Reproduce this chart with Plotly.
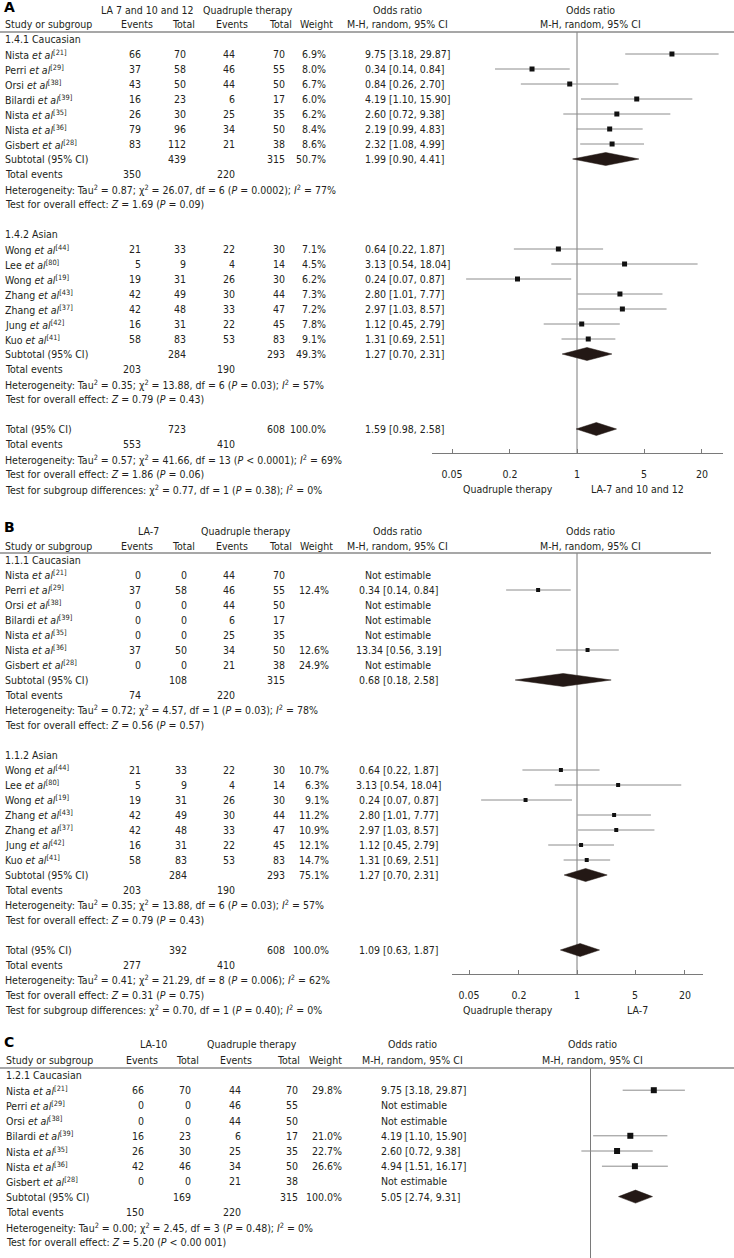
import plotly.graph_objects as go

W, H = 734, 1258
FONT = "DejaVu Sans Condensed, DejaVu Sans, Verdana, sans-serif"
FS = 10.5
TXT = "#231f20"

# ---------------- Panel A data ----------------
A_cau_authors = ["Nista", "Perri", "Orsi", "Bilardi", "Nista", "Nista", "Gisbert"]
A_cau_refs = [21, 29, 38, 39, 35, 36, 28]
A_cau_ev1 = [66, 37, 43, 16, 26, 79, 83]
A_cau_tot1 = [70, 58, 50, 23, 30, 96, 112]
A_cau_ev2 = [44, 46, 44, 6, 25, 34, 21]
A_cau_tot2 = [70, 55, 50, 17, 35, 50, 38]
A_cau_weight = ["6.9%", "8.0%", "6.7%", "6.0%", "6.2%", "8.4%", "8.6%"]
A_cau_or = [9.75, 0.34, 0.84, 4.19, 2.60, 2.19, 2.32]
A_cau_lo = [3.18, 0.14, 0.26, 1.10, 0.72, 0.99, 1.08]
A_cau_hi = [29.87, 0.84, 2.70, 15.90, 9.38, 4.83, 4.99]
A_cau_sub = [1.99, 0.90, 4.41]
A_cau_subtot = [439, 315, "50.7%"]
A_cau_events = [350, 220]
A_cau_het = "Heterogeneity: Tau<sup>2</sup> = 0.87; χ<sup>2</sup> = 26.07, df = 6 (<i>P</i> = 0.0002); <i>I</i><sup>2</sup> = 77%"
A_cau_test = "Test for overall effect: <i>Z</i> = 1.69 (<i>P</i> = 0.09)"

A_asi_authors = ["Wong", "Lee", "Wong", "Zhang", "Zhang", "Jung", "Kuo"]
A_asi_refs = [44, 80, 19, 43, 37, 42, 41]
A_asi_ev1 = [21, 5, 19, 42, 42, 16, 58]
A_asi_tot1 = [33, 9, 31, 49, 48, 31, 83]
A_asi_ev2 = [22, 4, 26, 30, 33, 22, 53]
A_asi_tot2 = [30, 14, 30, 44, 47, 45, 83]
A_asi_weight = ["7.1%", "4.5%", "6.2%", "7.3%", "7.2%", "7.8%", "9.1%"]
A_asi_or = [0.64, 3.13, 0.24, 2.80, 2.97, 1.12, 1.31]
A_asi_lo = [0.22, 0.54, 0.07, 1.01, 1.03, 0.45, 0.69]
A_asi_hi = [1.87, 18.04, 0.87, 7.77, 8.57, 2.79, 2.51]
A_asi_sub = [1.27, 0.70, 2.31]
A_asi_subtot = [284, 293, "49.3%"]
A_asi_events = [203, 190]
A_asi_het = "Heterogeneity: Tau<sup>2</sup> = 0.35; χ<sup>2</sup> = 13.88, df = 6 (<i>P</i> = 0.03); <i>I</i><sup>2</sup> = 57%"
A_asi_test = "Test for overall effect: <i>Z</i> = 0.79 (<i>P</i> = 0.43)"

A_total = [1.59, 0.98, 2.58]
A_totals = [723, 608, "100.0%"]
A_total_events = [553, 410]
A_total_het = "Heterogeneity: Tau<sup>2</sup> = 0.57; χ<sup>2</sup> = 41.66, df = 13 (<i>P</i> < 0.0001); <i>I</i><sup>2</sup> = 69%"
A_total_test = "Test for overall effect: <i>Z</i> = 1.86 (<i>P</i> = 0.06)"
A_subgroup_test = "Test for subgroup differences: χ<sup>2</sup> = 0.77, df = 1 (<i>P</i> = 0.38); <i>I</i><sup>2</sup> = 0%"
A_groups_labels = ["1.4.1 Caucasian", "1.4.2 Asian"]
A_arm_labels = ["LA 7 and 10 and 12", "Quadruple therapy"]
A_favour = ["Quadruple therapy", "LA-7 and 10 and 12"]

# ---------------- Panel B data ----------------
B_cau_authors = ["Nista", "Perri", "Orsi", "Bilardi", "Nista", "Nista", "Gisbert"]
B_cau_refs = [21, 29, 38, 39, 35, 36, 28]
B_cau_ev1 = [0, 37, 0, 0, 0, 37, 0]
B_cau_tot1 = [0, 58, 0, 0, 0, 50, 0]
B_cau_ev2 = [44, 46, 44, 6, 25, 34, 21]
B_cau_tot2 = [70, 55, 50, 17, 35, 50, 38]
B_cau_weight = ["", "12.4%", "", "", "", "12.6%", "24.9%"]
B_cau_or = [None, 0.34, None, None, None, 1.34, None]
B_cau_lo = [None, 0.14, None, None, None, 0.56, None]
B_cau_hi = [None, 0.84, None, None, None, 3.19, None]
B_cau_text = ["Not estimable", "0.34 [0.14, 0.84]", "Not estimable", "Not estimable",
              "Not estimable", "13.34 [0.56, 3.19]", "Not estimable"]
B_cau_sub = [0.68, 0.18, 2.58]
B_cau_subtot = [108, 315, ""]
B_cau_events = [74, 220]
B_cau_het = "Heterogeneity: Tau<sup>2</sup> = 0.72; χ<sup>2</sup> = 4.57, df = 1 (<i>P</i> = 0.03); <i>I</i><sup>2</sup> = 78%"
B_cau_test = "Test for overall effect: <i>Z</i> = 0.56 (<i>P</i> = 0.57)"

B_asi_authors = ["Wong", "Lee", "Wong", "Zhang", "Zhang", "Jung", "Kuo"]
B_asi_refs = [44, 80, 19, 43, 37, 42, 41]
B_asi_ev1 = [21, 5, 19, 42, 42, 16, 58]
B_asi_tot1 = [33, 9, 31, 49, 48, 31, 83]
B_asi_ev2 = [22, 4, 26, 30, 33, 22, 53]
B_asi_tot2 = [30, 14, 30, 44, 47, 45, 83]
B_asi_weight = ["10.7%", "6.3%", "9.1%", "11.2%", "10.9%", "12.1%", "14.7%"]
B_asi_or = [0.64, 3.13, 0.24, 2.80, 2.97, 1.12, 1.31]
B_asi_lo = [0.22, 0.54, 0.07, 1.01, 1.03, 0.45, 0.69]
B_asi_hi = [1.87, 18.04, 0.87, 7.77, 8.57, 2.79, 2.51]
B_asi_sub = [1.27, 0.70, 2.31]
B_asi_subtot = [284, 293, "75.1%"]
B_asi_events = [203, 190]
B_asi_het = "Heterogeneity: Tau<sup>2</sup> = 0.35; χ<sup>2</sup> = 13.88, df = 6 (<i>P</i> = 0.03); <i>I</i><sup>2</sup> = 57%"
B_asi_test = "Test for overall effect: <i>Z</i> = 0.79 (<i>P</i> = 0.43)"

B_total = [1.09, 0.63, 1.87]
B_totals = [392, 608, "100.0%"]
B_total_events = [277, 410]
B_total_het = "Heterogeneity: Tau<sup>2</sup> = 0.41; χ<sup>2</sup> = 21.29, df = 8 (<i>P</i> = 0.006); <i>I</i><sup>2</sup> = 62%"
B_total_test = "Test for overall effect: <i>Z</i> = 0.31 (<i>P</i> = 0.75)"
B_subgroup_test = "Test for subgroup differences: χ<sup>2</sup> = 0.70, df = 1 (<i>P</i> = 0.40); <i>I</i><sup>2</sup> = 0%"
B_groups_labels = ["1.1.1 Caucasian", "1.1.2 Asian"]
B_arm_labels = ["LA-7", "Quadruple therapy"]
B_favour = ["Quadruple therapy", "LA-7"]

# ---------------- Panel C data ----------------
C_cau_authors = ["Nista", "Perri", "Orsi", "Bilardi", "Nista", "Nista", "Gisbert"]
C_cau_refs = [21, 29, 38, 39, 35, 36, 28]
C_cau_ev1 = [66, 0, 0, 16, 26, 42, 0]
C_cau_tot1 = [70, 0, 0, 23, 30, 46, 0]
C_cau_ev2 = [44, 46, 44, 6, 25, 34, 21]
C_cau_tot2 = [70, 55, 50, 17, 35, 50, 38]
C_cau_weight = ["29.8%", "", "", "21.0%", "22.7%", "26.6%", ""]
C_cau_or = [9.75, None, None, 4.19, 2.60, 4.94, None]
C_cau_lo = [3.18, None, None, 1.10, 0.72, 1.51, None]
C_cau_hi = [29.87, None, None, 15.90, 9.38, 16.17, None]
C_cau_sub = [5.05, 2.74, 9.31]
C_cau_subtot = [169, 315, "100.0%"]
C_cau_events = [150, 220]
C_cau_het = "Heterogeneity: Tau<sup>2</sup> = 0.00; χ<sup>2</sup> = 2.45, df = 3 (<i>P</i> = 0.48); <i>I</i><sup>2</sup> = 0%"
C_cau_test = "Test for overall effect: <i>Z</i> = 5.20 (<i>P</i> < 0.00 001)"
C_groups_labels = ["1.2.1 Caucasian"]
C_arm_labels = ["LA-10", "Quadruple therapy"]

tick_vals = [0.05, 0.2, 1, 5, 20]
tick_text = ["0.05", "0.2", "1", "5", "20"]


def ci_text(o, l, h):
    return "Not estimable" if o is None else f"{o:.2f} [{l:.2f}, {h:.2f}]"


def make_group(label, authors, refs, ev1, tot1, ev2, tot2, weight, orv, lo, hi,
               sub, subtot, events, het, test, texts=None):
    if texts is None:
        texts = [ci_text(o, l, h) for o, l, h in zip(orv, lo, hi)]
    return dict(label=label, authors=authors, refs=refs, ev1=ev1, tot1=tot1, ev2=ev2,
                tot2=tot2, weight=weight, orv=orv, lo=lo, hi=hi, texts=texts,
                sub=sub, subtot=subtot, events=events, het=het, test=test)


# layout geometry (pixels)
PANELS = {
    "A": dict(ax="", row0=39, dy=15, top=0, bottom=515, label_y=7,
              hdr1_y=10, hdr2_y=24, line_y=32, line_x1=734,
              cols=dict(name=3, ev1=143, tot1=188, ev2=237, tot2=287, w=328, ortxt=363, oralign="left"),
              hdr=dict(ev1=137, tot1=183, ev2=232, tot2=280, w=316, orc=397, forest=590, g1=147, g2=248),
              forest=dict(c=577, ppd=96, x0=432, x1=723, axis_y=453, show_axis=True),
              ms=5, fav=[508, 637]),
    "B": dict(ax="2", row0=560, dy=15, top=515, bottom=1030, label_y=527,
              hdr1_y=531, hdr2_y=546, line_y=553, line_x1=711,
              cols=dict(name=3, ev1=143, tot1=189, ev2=237, tot2=287, w=331, ortxt=398, oralign="center"),
              hdr=dict(ev1=137, tot1=183, ev2=232, tot2=280, w=316, orc=397, forest=590, g1=148, g2=246),
              forest=dict(c=577, ppd=83, x0=452, x1=703, axis_y=974, show_axis=True),
              ms=4, fav=[508, 637]),
    "C": dict(ax="3", row0=1075, dy=15.2, top=1030, bottom=1258, label_y=1042,
              hdr1_y=1044, hdr2_y=1060, line_y=1068, line_x1=734,
              cols=dict(name=4, ev1=146, tot1=193, ev2=243, tot2=300, w=344, ortxt=379, oralign="left"),
              hdr=dict(ev1=142, tot1=187, ev2=236, tot2=288, w=325, orc=412, forest=592, g1=153, g2=252),
              forest=dict(c=590.5, ppd=64, x0=480, x1=734, axis_y=None, show_axis=False),
              ms=6, fav=None),
}

fig = go.Figure()
annotations = []
shapes = []
layout_axes = {}

INK = "#111111"
DIAM = "#231815"
CI_COL = "#8c8c8c"
LINE_COL = "#7a7a7a"


def ann(text, px, row, yref, xanchor="left", size=FS, color=TXT):
    annotations.append(dict(text=text, x=px / W, xref="paper", y=row, yref=yref,
                            xanchor=xanchor, yanchor="middle", showarrow=False,
                            font=dict(family=FONT, size=size, color=color)))


def build_panel(key, groups, total=None, arm_labels=None, favour=None):
    P = PANELS[key]
    ax = P["ax"]
    xa, ya = "x" + ax, "y" + ax
    row = lambda py: (py - P["row0"]) / P["dy"]
    F = P["forest"]
    C = P["cols"]
    Hd = P["hdr"]

    layout_axes["yaxis" + ax] = dict(
        domain=[1 - P["bottom"] / H, 1 - P["top"] / H],
        range=[row(P["bottom"]), row(P["top"])], visible=False, anchor=xa, fixedrange=True)
    xd = dict(type="log", domain=[F["x0"] / W, F["x1"] / W],
              range=[(F["x0"] - F["c"]) / F["ppd"], (F["x1"] - F["c"]) / F["ppd"]],
              showgrid=False, zeroline=False, fixedrange=True)
    if F["show_axis"]:
        xd.update(anchor="free", position=1 - F["axis_y"] / H, showline=True,
                  linecolor=LINE_COL, linewidth=1, ticks="inside", ticklen=4,
                  tickcolor=LINE_COL, tickvals=tick_vals, ticktext=tick_text,
                  tickfont=dict(family=FONT, size=FS, color=TXT), ticklabelstandoff=11)
    else:
        xd.update(anchor=ya, showline=False, showticklabels=False, ticks="")
    layout_axes["xaxis" + ax] = xd

    annotations.append(dict(text="<b>%s</b>" % key, x=2 / W, xref="paper", y=row(P["label_y"]),
                            yref=ya, xanchor="left", yanchor="middle", showarrow=False,
                            font=dict(family="DejaVu Sans, sans-serif", size=14, color="#000")))
    r1, r2 = row(P["hdr1_y"]), row(P["hdr2_y"])
    ann(arm_labels[0], Hd["g1"], r1, ya, "center")
    ann(arm_labels[1], Hd["g2"], r1, ya, "center")
    ann("Odds ratio", Hd["orc"], r1, ya, "center")
    ann("Odds ratio", Hd["forest"], r1, ya, "center")
    ann("Study or subgroup", C["name"], r2, ya, "left")
    ann("Events", Hd["ev1"], r2, ya, "center")
    ann("Total", Hd["tot1"], r2, ya, "center")
    ann("Events", Hd["ev2"], r2, ya, "center")
    ann("Total", Hd["tot2"], r2, ya, "center")
    ann("Weight", Hd["w"], r2, ya, "center")
    ann("M-H, random, 95% CI", Hd["orc"], r2, ya, "center")
    ann("M-H, random, 95% CI", Hd["forest"], r2, ya, "center")
    shapes.append(dict(type="line", xref="paper", yref=ya, x0=0, x1=P["line_x1"] / W,
                       y0=row(P["line_y"]), y1=row(P["line_y"]),
                       line=dict(color="#8a8a8a", width=1.3)))

    y_end = row(F["axis_y"]) if F["axis_y"] is not None else row(P["bottom"])
    fig.add_trace(go.Scatter(x=[1, 1], y=[row(P["line_y"]), y_end], mode="lines",
                             line=dict(color=LINE_COL, width=1), xaxis=xa, yaxis=ya,
                             hoverinfo="skip", showlegend=False))

    orx = C["ortxt"]
    oranchor = C["oralign"]
    half = 6.5 / P["dy"]

    def diamond(vals, r):
        est, lo, hi = vals
        fig.add_trace(go.Scatter(x=[lo, est, hi, est, lo], y=[r, r - half, r, r + half, r],
                                 mode="lines", fill="toself", fillcolor=DIAM,
                                 line=dict(color=DIAM, width=0.5), xaxis=xa, yaxis=ya,
                                 hoverinfo="skip", showlegend=False))

    r = 0
    for g in groups:
        ann(g["label"], C["name"], r, ya)
        cx, cy, mx, my = [], [], [], []
        for i in range(len(g["authors"])):
            rr = r + 1 + i
            ann(f'{g["authors"][i]} <i>et al</i><sup>[{g["refs"][i]}]</sup>', C["name"], rr, ya)
            ann(str(g["ev1"][i]), C["ev1"], rr, ya, "right")
            ann(str(g["tot1"][i]), C["tot1"], rr, ya, "right")
            ann(str(g["ev2"][i]), C["ev2"], rr, ya, "right")
            ann(str(g["tot2"][i]), C["tot2"], rr, ya, "right")
            if g["weight"][i]:
                ann(g["weight"][i], C["w"], rr, ya, "right")
            ann(g["texts"][i], orx, rr, ya, oranchor)
            if g["orv"][i] is not None:
                cx += [g["lo"][i], g["hi"][i], None]
                cy += [rr, rr, None]
                mx.append(g["orv"][i])
                my.append(rr)
        fig.add_trace(go.Scatter(x=cx, y=cy, mode="lines", line=dict(color=CI_COL, width=1),
                                 xaxis=xa, yaxis=ya, hoverinfo="skip", showlegend=False))
        fig.add_trace(go.Scatter(x=mx, y=my, mode="markers",
                                 marker=dict(symbol="square", size=P["ms"], color=INK, line=dict(width=0)),
                                 xaxis=xa, yaxis=ya, hoverinfo="skip", showlegend=False))
        n = len(g["authors"])
        rs = r + n + 1
        ann("Subtotal (95% CI)", C["name"], rs, ya)
        ann(str(g["subtot"][0]), C["tot1"], rs, ya, "right")
        ann(str(g["subtot"][1]), C["tot2"], rs, ya, "right")
        if g["subtot"][2]:
            ann(g["subtot"][2], C["w"], rs, ya, "right")
        ann(ci_text(*g["sub"]), orx, rs, ya, oranchor)
        diamond(g["sub"], rs)
        ann("Total events", C["name"], rs + 1, ya)
        ann(str(g["events"][0]), C["ev1"], rs + 1, ya, "right")
        ann(str(g["events"][1]), C["ev2"], rs + 1, ya, "right")
        ann(g["het"], C["name"], rs + 2, ya)
        ann(g["test"], C["name"], rs + 3, ya)
        r = rs + 5

    if total is not None:
        est, totals, events, het, test, subtest = total
        ann("Total (95% CI)", C["name"], r, ya)
        ann(str(totals[0]), C["tot1"], r, ya, "right")
        ann(str(totals[1]), C["tot2"], r, ya, "right")
        ann(totals[2], C["w"], r, ya, "right")
        ann(ci_text(*est), orx, r, ya, oranchor)
        diamond(est, r)
        ann("Total events", C["name"], r + 1, ya)
        ann(str(events[0]), C["ev1"], r + 1, ya, "right")
        ann(str(events[1]), C["ev2"], r + 1, ya, "right")
        ann(het, C["name"], r + 2, ya)
        ann(test, C["name"], r + 3, ya)
        ann(subtest, C["name"], r + 4, ya)
        ann(favour[0], P["fav"][0], r + 4, ya, "center")
        ann(favour[1], P["fav"][1], r + 4, ya, "center")


A_groups = [
    make_group(A_groups_labels[0], A_cau_authors, A_cau_refs, A_cau_ev1, A_cau_tot1, A_cau_ev2,
               A_cau_tot2, A_cau_weight, A_cau_or, A_cau_lo, A_cau_hi, A_cau_sub, A_cau_subtot,
               A_cau_events, A_cau_het, A_cau_test),
    make_group(A_groups_labels[1], A_asi_authors, A_asi_refs, A_asi_ev1, A_asi_tot1, A_asi_ev2,
               A_asi_tot2, A_asi_weight, A_asi_or, A_asi_lo, A_asi_hi, A_asi_sub, A_asi_subtot,
               A_asi_events, A_asi_het, A_asi_test),
]
B_groups = [
    make_group(B_groups_labels[0], B_cau_authors, B_cau_refs, B_cau_ev1, B_cau_tot1, B_cau_ev2,
               B_cau_tot2, B_cau_weight, B_cau_or, B_cau_lo, B_cau_hi, B_cau_sub, B_cau_subtot,
               B_cau_events, B_cau_het, B_cau_test, texts=B_cau_text),
    make_group(B_groups_labels[1], B_asi_authors, B_asi_refs, B_asi_ev1, B_asi_tot1, B_asi_ev2,
               B_asi_tot2, B_asi_weight, B_asi_or, B_asi_lo, B_asi_hi, B_asi_sub, B_asi_subtot,
               B_asi_events, B_asi_het, B_asi_test),
]
C_groups = [
    make_group(C_groups_labels[0], C_cau_authors, C_cau_refs, C_cau_ev1, C_cau_tot1, C_cau_ev2,
               C_cau_tot2, C_cau_weight, C_cau_or, C_cau_lo, C_cau_hi, C_cau_sub, C_cau_subtot,
               C_cau_events, C_cau_het, C_cau_test),
]

build_panel("A", A_groups,
            total=(A_total, A_totals, A_total_events, A_total_het, A_total_test, A_subgroup_test),
            arm_labels=A_arm_labels, favour=A_favour)
build_panel("B", B_groups,
            total=(B_total, B_totals, B_total_events, B_total_het, B_total_test, B_subgroup_test),
            arm_labels=B_arm_labels, favour=B_favour)
build_panel("C", C_groups, arm_labels=C_arm_labels)

fig.update_layout(width=W, height=H, margin=dict(l=0, r=0, t=0, b=0),
                  paper_bgcolor="white", plot_bgcolor="rgba(0,0,0,0)", showlegend=False,
                  annotations=annotations, shapes=shapes, **layout_axes)
fig.write_html("out.html", config={"displayModeBar": False},
               post_script="document.body.style.margin='0px';document.body.style.overflow='hidden';")
